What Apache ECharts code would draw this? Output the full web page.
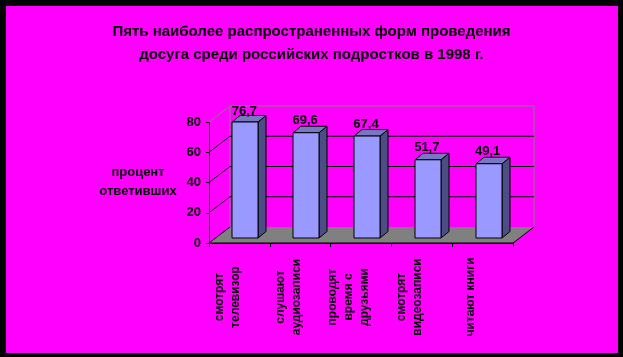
<!DOCTYPE html>
<html>
<head>
<meta charset="utf-8">
<script src="https://cdn.jsdelivr.net/npm/echarts@6/dist/echarts.min.js"></script>
<style>html,body{margin:0;padding:0;background:#000}#c{width:623px;height:357px}</style>
</head>
<body>
<div id="c"></div>
<script>
const titleText = 'Пять наиболее распространенных форм проведения\nдосуга среди российских подростков в 1998 г.';
const yName = 'процент\nответивших';
const categories = ['смотрят\nтелевизор', 'слушают\nаудиозаписи', 'проводят\nвремя с\nдрузьями', 'смотрят\nвидеозаписи', 'читают книги'];
const values = [76.7, 69.6, 67.4, 51.7, 49.1];
const yTicks = [0, 20, 40, 60, 80];

const FONT = '"Liberation Sans", Arial, sans-serif';
const DX = 21, DY = -16;      // back wall depth offset
const BDX = 6, BDY = -5;      // bar placement depth
const BW = 26, BSX = 8, BSY = -6.5; // bar width and depth
const GRAY = '#808080';

const chart = echarts.init(document.getElementById('c'), null, {renderer: 'canvas'});

function wallsRender(params, api) {
  const cs = params.coordSys;
  const x0 = cs.x, x1 = cs.x + cs.width;
  const yb = api.coord([0, 0])[1];
  const ytop = api.coord([0, yTicks[yTicks.length - 1]])[1];
  const ch = [];
  ch.push({type: 'polygon', shape: {points: [[x0, yb], [x1, yb], [x1 + DX, yb + DY], [x0 + DX, yb + DY]]},
    style: {fill: GRAY, stroke: null}});
  ch.push({type: 'polyline', shape: {points: [[x0 + DX, yb + DY], [x0 + DX, ytop + DY], [x1 + DX, ytop + DY], [x1 + DX, yb + DY]]},
    style: {stroke: GRAY, lineWidth: 1, fill: null}});
  yTicks.forEach((v, k) => {
    const y = api.coord([0, v])[1];
    const isTop = k === yTicks.length - 1;
    if (v !== 0 && !isTop) {
      ch.push({type: 'line', shape: {x1: x0 + DX, y1: y + DY, x2: x1 + DX, y2: y + DY}, style: {stroke: '#000', lineWidth: 1}});
    }
    ch.push({type: 'line', shape: {x1: x0, y1: y, x2: x0 + DX, y2: y + DY}, style: {stroke: isTop ? GRAY : '#000', lineWidth: 1}});
  });
  ch.push({type: 'polyline', shape: {points: [[x0, yb], [x1, yb], [x1 + DX, yb + DY]]}, style: {stroke: '#000', lineWidth: 1, fill: null}});
  return {type: 'group', children: ch};
}

function barsRender(params, api) {
  const i = api.value(0), v = api.value(1);
  const pTop = api.coord([i, v]);
  const p0 = api.coord([i, 0]);
  const ymax = api.coord([0, yTicks[yTicks.length - 1]])[1];
  const fx0 = Math.round(pTop[0] + BDX - BW / 2), fx1 = fx0 + BW;
  const yb = p0[1] + BDY, yt = pTop[1] + BDY;
  const st = {stroke: '#000', lineWidth: 1};
  const label = String(v).replace('.', ',');
  const ly = Math.max(pTop[1] - 17, ymax + DY + 5);
  return {type: 'group', children: [
    {type: 'polygon', shape: {points: [[fx1, yt], [fx1 + BSX, yt + BSY], [fx1 + BSX, yb + BSY], [fx1, yb]]},
      style: Object.assign({fill: '#4d4d85'}, st)},
    {type: 'polygon', shape: {points: [[fx0, yt], [fx1, yt], [fx1 + BSX, yt + BSY], [fx0 + BSX, yt + BSY]]},
      style: Object.assign({fill: '#7777c4'}, st)},
    {type: 'rect', shape: {x: fx0, y: yt, width: BW, height: yb - yt},
      style: Object.assign({fill: '#9999ff'}, st)},
    {type: 'text', style: {text: label, x: pTop[0] + 5, y: ly, textAlign: 'center', textVerticalAlign: 'middle',
      fill: '#000', font: 'bold 13px ' + FONT}}
  ]};
}

chart.setOption({
  backgroundColor: '#000',
  animation: false,
  graphic: [
    {type: 'rect', left: 6, top: 6, shape: {width: 612, height: 347}, style: {fill: '#ff00ff'}, z: -10},
    {type: 'text', x: 138, y: 182, style: {text: yName, textAlign: 'center', textVerticalAlign: 'middle',
      fill: '#000', font: 'bold 13px ' + FONT, lineHeight: 19}}
  ],
  title: {
    text: titleText, left: 'center', top: 15,
    textStyle: {fontFamily: FONT, fontWeight: 'bold', fontSize: 15, color: '#000', lineHeight: 23}
  },
  grid: {left: 209, top: 122, width: 304, height: 121},
  xAxis: {
    type: 'category', data: categories,
    axisLine: {lineStyle: {color: '#000'}},
    axisTick: {show: true, length: 4, lineStyle: {color: '#000'}},
    axisLabel: {rotate: 90, align: 'center', margin: 54, interval: 0,
      formatter: v => v.split('\n').map(l => '{a|' + l + '}').join('\n') + '\n{s| }',
      rich: {
        a: {fontFamily: FONT, fontWeight: 'bold', fontSize: 12, color: '#000', lineHeight: 16},
        s: {fontSize: 2, lineHeight: 24}
      },
      fontFamily: FONT, fontWeight: 'bold', fontSize: 12, color: '#000', lineHeight: 16},
    splitLine: {show: false}
  },
  yAxis: {
    type: 'value', min: 0, max: 80, interval: 20,
    axisLine: {show: true, lineStyle: {color: '#000'}},
    axisTick: {show: true, length: 3, lineStyle: {color: '#000'}},
    axisLabel: {margin: 8, fontFamily: FONT, fontWeight: 'bold', fontSize: 13, color: '#000'},
    splitLine: {show: false}
  },
  series: [
    {type: 'custom', renderItem: wallsRender, data: [[0, 0]], z: 1, silent: true},
    {type: 'custom', renderItem: barsRender, data: values.map((v, i) => [i, v]), z: 3, encode: {x: 0, y: 1}}
  ]
});
</script>
</body>
</html>
